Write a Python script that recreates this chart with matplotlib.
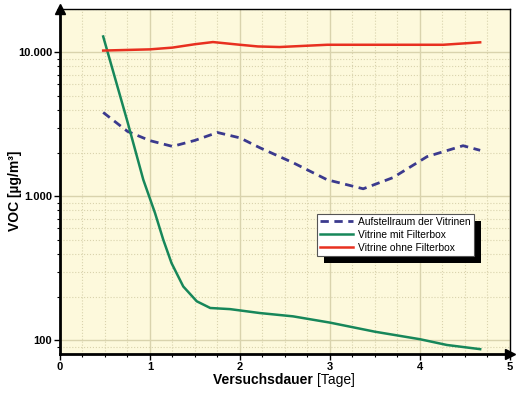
import numpy as np
import matplotlib.pyplot as plt
import matplotlib.patheffects as pe
from matplotlib.ticker import FixedLocator, FuncFormatter, NullFormatter

plt.rcParams['font.family'] = ['Liberation Sans', 'DejaVu Sans']

# Aufstellraum der Vitrinen (gestrichelt)
tage_raum = [0.48, 0.75, 1.0, 1.25, 1.5, 1.75, 2.0, 2.22, 2.59, 2.97, 3.37, 3.7, 4.08, 4.48, 4.67]
voc_raum = [3830, 2830, 2440, 2225, 2450, 2780, 2550, 2180, 1715, 1305, 1130, 1350, 1890, 2250, 2090]

# Vitrine mit Filterbox
tage_mit = [0.48, 0.75, 0.926, 1.056, 1.148, 1.24, 1.37, 1.52, 1.67, 1.89, 2.22, 2.59, 3.0, 3.5, 4.0, 4.3, 4.67]
voc_mit = [12900, 3300, 1305, 767, 500, 344, 237, 187, 168, 165, 155, 147, 133, 115, 102, 93, 87]

# Vitrine ohne Filterbox
tage_ohne = [0.48, 1.0, 1.25, 1.5, 1.7, 2.0, 2.2, 2.44, 2.97, 3.5, 4.26, 4.67]
voc_ohne = [10300, 10500, 10800, 11400, 11800, 11300, 11000, 10900, 11300, 11300, 11300, 11750]

fig = plt.figure(figsize=(5.24, 3.94), dpi=100)
ax = fig.add_axes([0.1145, 0.1015, 0.8585, 0.8755])
ax.set_facecolor('#fdf9dc')

ax.plot(tage_raum, voc_raum, color='#3b3a8e', lw=2, ls=(0, (3, 2)), label='Aufstellraum der Vitrinen')
ax.plot(tage_mit, voc_mit, color='#17875a', lw=1.8, label='Vitrine mit Filterbox')
ax.plot(tage_ohne, voc_ohne, color='#e83020', lw=1.8, label='Vitrine ohne Filterbox')

ax.set_yscale('log')
ax.set_xlim(0, 5)
ax.set_ylim(80.5, 20000)

# Achsen und Gitter
ax.xaxis.set_major_locator(FixedLocator([0, 1, 2, 3, 4, 5]))
ax.xaxis.set_minor_locator(FixedLocator(np.arange(0, 5.01, 0.25)))
ax.yaxis.set_major_locator(FixedLocator([100, 1000, 10000]))
ax.yaxis.set_minor_locator(FixedLocator([s * 10**e for e in range(1, 5) for s in range(2, 10)]))
ax.yaxis.set_minor_formatter(NullFormatter())
ax.yaxis.set_major_formatter(FuncFormatter(lambda v, p: f'{int(v):,}'.replace(',', '.')))

ax.grid(which='major', color='#d9d3ad', lw=1.0)
ax.grid(which='minor', color='#d9d3ad', lw=0.8, ls=':')
ax.set_axisbelow(True)

ax.tick_params(which='major', direction='out', length=4, width=1, labelsize=8, pad=1.5)
ax.tick_params(which='minor', direction='out', length=2, width=0.8)
for lab in ax.get_xticklabels() + ax.get_yticklabels():
    lab.set_fontweight('bold')

ax.spines['left'].set_linewidth(2)
ax.spines['bottom'].set_linewidth(2)
ax.spines['top'].set_linewidth(1)
ax.spines['right'].set_linewidth(1)
ax.plot([0], [1], marker='^', color='black', ms=7, transform=ax.transAxes, clip_on=False)
ax.plot([1], [0], marker='>', color='black', ms=7, transform=ax.transAxes, clip_on=False)

# Achsenbeschriftung
ax.text(0.571, -0.074, 'Versuchsdauer ', transform=ax.transAxes, ha='right', va='center',
        fontsize=10, fontweight='bold')
ax.text(0.571, -0.074, '[Tage]', transform=ax.transAxes, ha='left', va='center', fontsize=10)
fig.text(0.029, 0.515, 'VOC [µg/m³]', rotation=90, ha='center', va='center',
         fontsize=10, fontweight='bold')

leg = ax.legend(loc='upper left', bbox_to_anchor=(0.571, 0.406), fontsize=7.4, frameon=True,
                fancybox=False, framealpha=1, borderpad=0.3,
                labelspacing=0.28, handlelength=3.2, handletextpad=0.5, borderaxespad=0)
leg.get_frame().set_edgecolor('#555555')
leg.get_frame().set_linewidth(0.8)
leg.get_frame().set_path_effects([
    pe.SimplePatchShadow(offset=(5, -5), shadow_rgbFace='black', alpha=1), pe.Normal()])

fig.savefig('out.png', dpi=100)
